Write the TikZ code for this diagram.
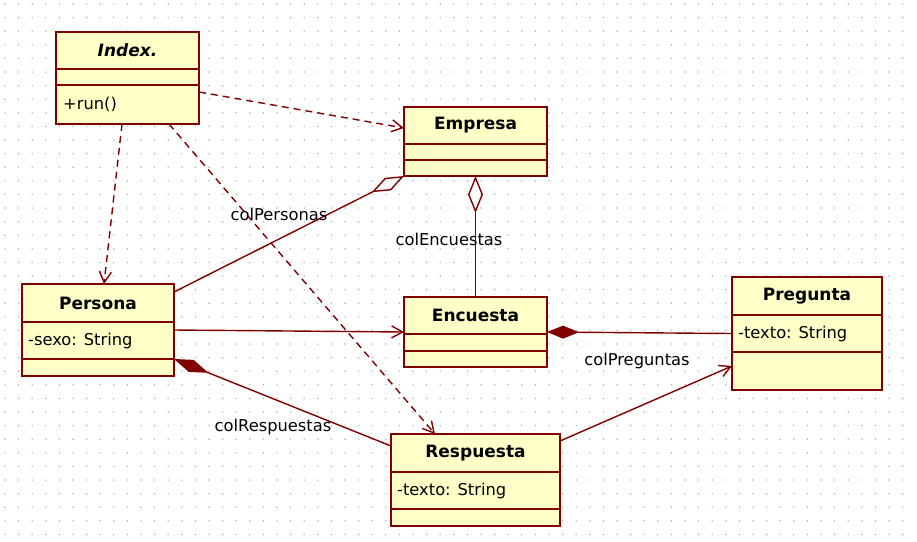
\documentclass[tikz,border=0pt]{standalone}
\usepackage{fontspec}
\setmainfont{DejaVu Sans}
\usetikzlibrary{arrows.meta, calc}
\definecolor{UMLline}{RGB}{128,0,0}
\definecolor{UMLfill}{RGB}{255,255,200}
\definecolor{GridDot}{RGB}{175,175,175}

\tikzset{
  classbox/.style={draw=UMLline, fill=UMLfill, line width=1.7pt, inner sep=0pt, outer sep=0pt},
  classline/.style={draw=UMLline, line width=1.7pt},
  classname/.style={font=\fontsize{17}{19}\selectfont\bfseries, inner sep=0pt},
  classtext/.style={font=\fontsize{16.3}{18}\selectfont, inner sep=0pt, anchor=west},
  rolename/.style={font=\fontsize{16.3}{18}\selectfont, inner sep=0pt},
  assoc/.style={draw=UMLline, line width=1.4pt},
  depend/.style={assoc, dash pattern=on 7pt off 5pt, -{Straight Barb[length=11pt,width=12pt]}},
  navig/.style={assoc, -{Straight Barb[length=11pt,width=12pt]}}
}

% class box: name, top-left, width, three part heights, title, attribute, operation
\newcommand{\umlclass}[9]{%
  \node[classbox, anchor=north west, minimum width=#3, minimum height=#4+#5+#6] (#1) at #2 {};
  \draw[classline] ($(#1.north west)+(0,#4)$) -- ($(#1.north east)+(0,#4)$);
  \draw[classline] ($(#1.north west)+(0,#4+#5)$) -- ($(#1.north east)+(0,#4+#5)$);
  \node[classname] (#1-name) at ($(#1.north)+(0,#4/2)$) {#7};
  \node[classtext] (#1-attr) at ($(#1.north west)+(6,#4+#5/2)$) {#8};
  \node[classtext] (#1-op) at ($(#1.north west)+(7,#4+#5+#6/2)$) {#9};
}

\begin{document}
\begin{tikzpicture}[x=1pt, y=-1pt]
\useasboundingbox (0,0) rectangle (917,541);
\fill[white] (0,0) rectangle (917,541);

% dotted grid
\foreach \gx in {0,...,66}
  \foreach \gy in {0,...,39}
    \fill[GridDot] (5+13.6*\gx, 4+13.6*\gy) circle (0.8pt);

% classes
\umlclass{index}{(56,32)}{143}{37}{16}{39}{\itshape Index.}{}{+run()}
\umlclass{empresa}{(404,107)}{143}{37}{16}{16}{Empresa}{}{}
\umlclass{persona}{(22,284)}{152}{38}{37}{17}{Persona}{-sexo: String}{}
\umlclass{encuesta}{(404,297)}{143}{37}{17}{16}{Encuesta}{}{}
\umlclass{pregunta}{(732,277)}{150}{38}{37}{38}{Pregunta}{-texto: String}{}
\umlclass{respuesta}{(391,434)}{169}{38}{37}{17}{Respuesta}{-texto: String}{}

% dependencies
\draw[depend] ($(index.north east)+(0,60)$) -- ($(empresa.north west)+(0,21)$);
\draw[depend] ($(index.south west)+(66,0)$) -- ($(persona.north west)+(82,0)$);
\draw[depend] ($(index.south west)+(113,0)$) -- ($(respuesta.north west)+(44,0)$);

% associations
\draw[assoc, {Diamond[open,length=36pt,width=14pt]}-] (empresa.south west) -- ($(persona.north east)+(0,8)$);
\draw[assoc, {Diamond[open,length=37pt,width=15pt]}-] (empresa.south) -- (encuesta.north);
\draw[navig] (persona.east) -- (encuesta.west);
\draw[assoc, {Diamond[length=32pt,width=13pt]}-] (encuesta.east) -- (pregunta.west);
\draw[assoc, {Diamond[length=37pt,width=13pt]}-] ($(persona.south east)+(0,-17)$) -- ($(respuesta.north west)+(0,12)$);
\draw[navig] ($(respuesta.north east)+(0,7)$) -- ($(pregunta.south west)+(0,-24)$);

% role names
\node[rolename] (colpersonas) at (279,214) {colPersonas};
\node[rolename] (colencuestas) at (449,239) {colEncuestas};
\node[rolename] (colpreguntas) at (637,361) {colPreguntas};
\node[rolename] (colrespuestas) at (273,427) {colRespuestas};
\end{tikzpicture}
\end{document}
